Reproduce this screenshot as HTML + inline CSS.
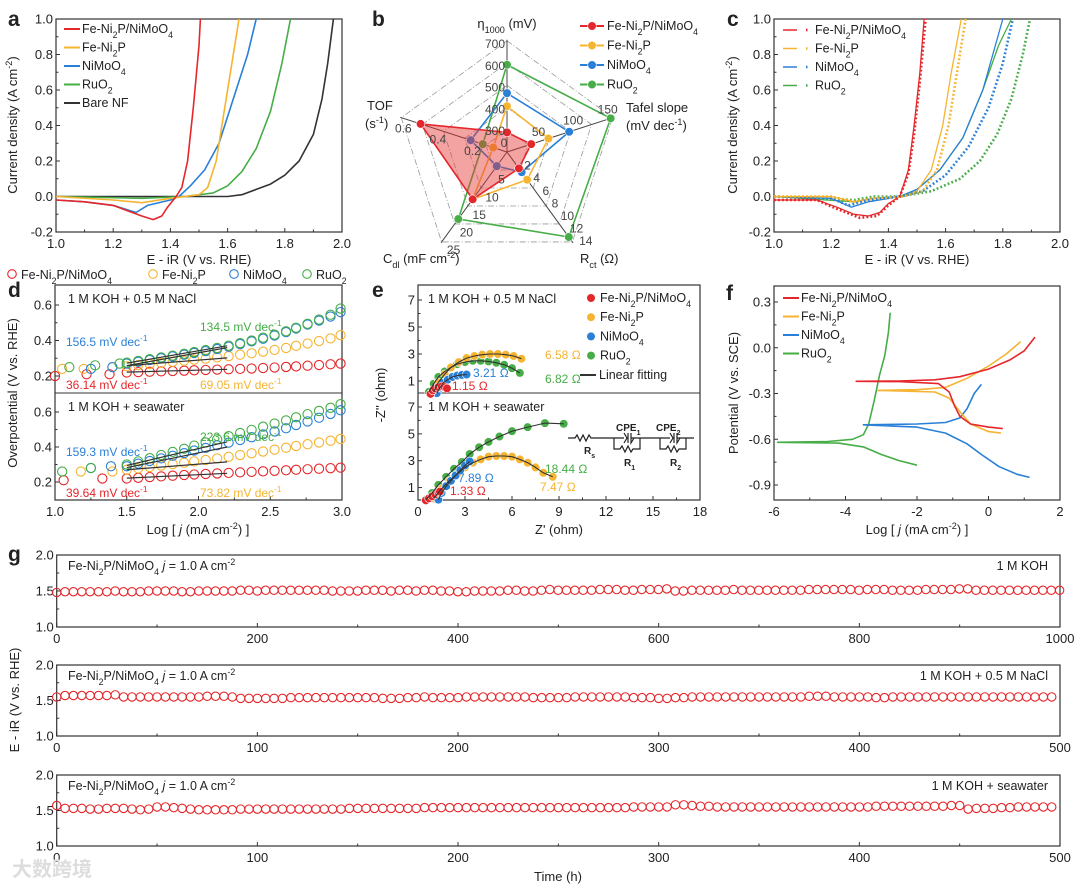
<!DOCTYPE html>
<html><head><meta charset="utf-8"><style>
body{margin:0;background:#fff}
svg{display:block;font-family:"Liberation Sans","Noto Sans CJK SC",sans-serif}
</style></head><body>
<svg id="fig" width="1080" height="889" viewBox="0 0 1080 889" xmlns="http://www.w3.org/2000/svg"></svg>
<script>
// ---------------- DATA ----------------
// panel a: LSV (E, j)
const aRedE=[1.0,1.1,1.2,1.25,1.3,1.34,1.37,1.39,1.42,1.44,1.46,1.48,1.5,1.505];
const aRedJ=[-0.02,-0.03,-0.05,-0.08,-0.11,-0.13,-0.11,-0.06,0,0.05,0.2,0.5,0.85,1.0];
const aOrgE=[1.0,1.2,1.3,1.4,1.5,1.53,1.56,1.58,1.6,1.62,1.64];
const aOrgJ=[0,-0.02,-0.035,-0.01,0.01,0.05,0.2,0.4,0.6,0.8,1.0];
const aBluE=[1.0,1.1,1.2,1.28,1.32,1.4,1.43,1.47,1.52,1.57,1.62,1.67,1.7];
const aBluJ=[-0.02,-0.03,-0.05,-0.09,-0.05,-0.02,0,0.06,0.15,0.3,0.55,0.8,1.0];
const aGrnE=[1.0,1.3,1.45,1.55,1.6,1.65,1.7,1.75,1.79,1.82];
const aGrnJ=[0,-0.01,0,0.02,0.06,0.14,0.27,0.48,0.75,1.0];
const aBlkE=[1.0,1.6,1.65,1.7,1.75,1.8,1.85,1.9,1.93,1.95,1.97];
const aBlkJ=[0,0,0.01,0.04,0.07,0.12,0.2,0.35,0.55,0.75,1.0];
// panel b: radar (eta1000, tafel, Rct, Cdl, TOF)
const bAxes=["eta","tafel","rct","cdl","tof"];
const bRed=[290,35,2.6,13.4,0.5];
const bOrg=[410,60,4.4,13.4,0.08];
const bBlu=[470,90,3.2,4,0.21];
const bGrn=[600,150,13.5,19,0.14];
// panel c: LSV before(solid) / after(dotted)
const cRedE=[1.0,1.15,1.22,1.28,1.33,1.37,1.4,1.44,1.47,1.49,1.51,1.525];
const cRedJ=[-0.02,-0.02,-0.06,-0.1,-0.11,-0.09,-0.04,0,0.15,0.4,0.7,1.0];
const cRedDE=[1.0,1.15,1.22,1.3,1.36,1.4,1.44,1.47,1.49,1.51,1.53];
const cRedDJ=[-0.02,-0.02,-0.07,-0.12,-0.11,-0.05,0,0.13,0.35,0.65,1.0];
const cOrgE=[1.0,1.2,1.28,1.35,1.45,1.5,1.55,1.59,1.62,1.655];
const cOrgJ=[0,0,-0.03,-0.01,0,0.03,0.15,0.4,0.7,1.0];
const cOrgDE=[1.0,1.2,1.28,1.35,1.45,1.52,1.57,1.61,1.64,1.67];
const cOrgDJ=[0,0,-0.03,-0.01,0,0.03,0.15,0.4,0.7,1.0];
const cBluE=[1.0,1.2,1.27,1.33,1.44,1.5,1.58,1.66,1.73,1.8];
const cBluJ=[0,-0.01,-0.06,-0.03,0,0.04,0.15,0.33,0.6,1.0];
const cBluDE=[1.0,1.2,1.26,1.33,1.44,1.52,1.6,1.68,1.75,1.8,1.835];
const cBluDJ=[0,-0.01,-0.05,-0.02,0,0.03,0.12,0.28,0.5,0.75,1.0];
const cGrnE=[1.0,1.28,1.35,1.44,1.5,1.58,1.66,1.73,1.785,1.83];
const cGrnJ=[0,-0.03,-0.01,0,0.04,0.15,0.33,0.6,0.85,1.0];
const cGrnDE=[1.0,1.28,1.35,1.44,1.55,1.65,1.72,1.78,1.83,1.87,1.895];
const cGrnDJ=[0,-0.02,0,0,0.03,0.1,0.2,0.35,0.55,0.8,1.0];
// panel d: Tafel (log j, overpotential)
const dX=[1.5,1.58,1.66,1.74,1.82,1.9,1.97,2.05,2.13,2.21,2.29,2.37,2.45,2.53,2.61,2.68,2.76,2.84,2.92,2.99];
const dTopRed=[0.22,0.222,0.224,0.226,0.228,0.23,0.232,0.234,0.236,0.238,0.24,0.242,0.245,0.248,0.251,0.254,0.258,0.262,0.266,0.27];
const dTopOrg=[0.255,0.262,0.268,0.274,0.28,0.286,0.292,0.298,0.305,0.312,0.32,0.328,0.337,0.347,0.358,0.37,0.383,0.397,0.412,0.43];
const dTopBlu=[0.27,0.28,0.29,0.3,0.31,0.32,0.33,0.34,0.352,0.365,0.38,0.395,0.41,0.428,0.447,0.468,0.49,0.512,0.535,0.56];
const dTopGrn=[0.275,0.285,0.295,0.305,0.315,0.325,0.335,0.346,0.358,0.371,0.385,0.4,0.416,0.433,0.452,0.472,0.494,0.518,0.545,0.58];
const dBotRed=[0.22,0.224,0.228,0.232,0.236,0.24,0.243,0.246,0.249,0.252,0.255,0.258,0.261,0.264,0.267,0.27,0.273,0.276,0.279,0.282];
const dBotOrg=[0.27,0.278,0.286,0.294,0.302,0.31,0.318,0.326,0.335,0.344,0.354,0.364,0.374,0.385,0.396,0.406,0.416,0.426,0.436,0.446];
const dBotBlu=[0.29,0.305,0.32,0.335,0.35,0.365,0.38,0.395,0.41,0.425,0.44,0.456,0.472,0.489,0.507,0.526,0.546,0.567,0.589,0.61];
const dBotGrn=[0.3,0.318,0.336,0.354,0.372,0.39,0.408,0.426,0.444,0.462,0.48,0.498,0.516,0.534,0.552,0.57,0.588,0.606,0.624,0.645];
const dEarlyTopX=[1.0,1.22,1.38,1.05,1.2,1.4,1.25,1.4,1.1,1.28,1.45];
const dEarlyTopY=[0.2,0.21,0.21,0.24,0.24,0.25,0.24,0.25,0.25,0.26,0.27];
const dEarlyBotX=[1.06,1.33,1.18,1.4,1.25,1.39,1.05,1.25];
const dEarlyBotY=[0.21,0.22,0.26,0.26,0.28,0.29,0.26,0.28];
const dEarlyColTop=["r","r","r","o","o","o","b","b","g","g","g"];
const dEarlyColBot=["r","r","o","o","b","b","g","g"];
const dFitTop=[[0.222,0.238],[0.258,0.302],[0.258,0.36],[0.272,0.37]];
const dFitBot=[[0.222,0.25],[0.27,0.315],[0.282,0.4],[0.295,0.43]];
// panel e: Nyquist (Z', -Z'')
const eTopRedX=[0.8,0.95,1.1,1.3,1.5,1.7,1.85];const eTopRedY=[0.05,0.3,0.45,0.55,0.6,0.55,0.45];
const eTopOrgX=[1.0,1.3,1.7,2.1,2.6,3.1,3.6,4.1,4.6,5.1,5.6,6.1,6.6];const eTopOrgY=[0.2,0.9,1.5,2.0,2.4,2.7,2.85,2.95,3.0,3.0,2.95,2.85,2.65];
const eTopBluX=[1.2,1.4,1.6,1.9,2.2,2.5,2.8,3.1];const eTopBluY=[0.1,0.5,0.85,1.1,1.3,1.4,1.45,1.48];
const eTopGrnX=[0.7,1.0,1.3,1.7,2.1,2.5,3.0,3.5,4.0,4.5,5.0,5.5,6.0,6.5];const eTopGrnY=[0.2,0.8,1.3,1.7,2.0,2.25,2.4,2.5,2.5,2.45,2.35,2.2,1.95,1.6];
const eBotRedX=[0.5,0.7,0.9,1.1,1.3,1.4];const eBotRedY=[0.05,0.2,0.35,0.5,0.65,0.7];
const eBotBluX=[1.3,1.5,1.8,2.1,2.4,2.7,3.0,3.3];const eBotBluY=[0.1,0.6,1.1,1.5,1.9,2.3,2.65,2.95];
const eBotOrgX=[1.0,1.5,2.0,2.5,3.0,3.5,4.0,4.5,5.0,5.5,6.0,6.5,7.0,7.5,8.0,8.6];const eBotOrgY=[0.2,0.9,1.5,2.0,2.5,2.85,3.1,3.3,3.35,3.35,3.3,3.1,2.85,2.5,2.1,1.8];
const eBotGrnX=[0.5,0.9,1.3,1.8,2.3,2.8,3.3,3.9,4.5,5.2,6.0,7.0,8.1,9.3];const eBotGrnY=[0.1,0.6,1.2,1.8,2.4,2.9,3.5,4.0,4.4,4.8,5.2,5.5,5.8,5.75];
// panel f: polarization (log j, E)
const fRedX=[0.4,0,-0.5,-0.8,-0.95,-1.1,-1.4,-2.5,-3.7,-2.5,-1.5,-0.8,0,0.6,1.0,1.3];
const fRedY=[-0.53,-0.52,-0.5,-0.45,-0.38,-0.29,-0.235,-0.222,-0.22,-0.218,-0.21,-0.19,-0.14,-0.08,-0.02,0.07];
const fOrgX=[0.35,0,-0.5,-0.8,-1.1,-1.5,-3.1,-2,-1.2,-0.6,0,0.5,0.9];
const fOrgY=[-0.56,-0.55,-0.5,-0.42,-0.33,-0.29,-0.28,-0.275,-0.26,-0.2,-0.12,-0.04,0.04];
const fBluX=[1.15,0.8,0.3,-0.2,-0.6,-1.2,-2,-3.5,-2,-1.2,-0.8,-0.6,-0.4,-0.2];
const fBluY=[-0.85,-0.83,-0.78,-0.7,-0.63,-0.56,-0.52,-0.505,-0.5,-0.49,-0.46,-0.4,-0.3,-0.24];
const fGrnX=[-2.0,-2.5,-3,-3.5,-4.2,-5.9,-4.5,-3.8,-3.5,-3.35,-3.2,-3.05,-2.9,-2.8,-2.75];
const fGrnY=[-0.77,-0.74,-0.7,-0.65,-0.625,-0.62,-0.615,-0.6,-0.57,-0.5,-0.35,-0.18,-0.05,0.1,0.23];
// panel g: stability (interval in hours, potential values)
const gStep=[8.33,4.167,4.167];
const gKOH=[1.48,1.49,1.49,1.49,1.49,1.49,1.49,1.5,1.49,1.49,1.49,1.5,1.5,1.5,1.5,1.49,1.49,1.5,1.5,1.5,1.5,1.5,1.51,1.51,1.5,1.51,1.51,1.51,1.51,1.51,1.51,1.51,1.51,1.5,1.5,1.5,1.5,1.51,1.51,1.51,1.5,1.51,1.51,1.5,1.51,1.51,1.5,1.5,1.49,1.49,1.5,1.5,1.5,1.5,1.51,1.51,1.5,1.5,1.51,1.52,1.51,1.51,1.51,1.51,1.51,1.52,1.52,1.52,1.51,1.51,1.52,1.52,1.52,1.53,1.5,1.5,1.51,1.51,1.51,1.51,1.51,1.52,1.51,1.51,1.51,1.51,1.51,1.51,1.51,1.51,1.52,1.52,1.52,1.52,1.52,1.52,1.51,1.52,1.52,1.52,1.51,1.51,1.51,1.51,1.52,1.52,1.52,1.52,1.53,1.53,1.51,1.51,1.51,1.51,1.51,1.51,1.51,1.51,1.51,1.51,1.51];
const gNaCl=[1.55,1.57,1.57,1.57,1.57,1.57,1.57,1.58,1.55,1.55,1.55,1.55,1.55,1.55,1.55,1.55,1.55,1.55,1.56,1.56,1.56,1.55,1.53,1.53,1.53,1.53,1.53,1.53,1.54,1.54,1.54,1.54,1.54,1.54,1.54,1.54,1.54,1.54,1.54,1.53,1.53,1.53,1.54,1.54,1.55,1.54,1.54,1.54,1.54,1.55,1.55,1.55,1.55,1.55,1.55,1.55,1.55,1.54,1.54,1.54,1.54,1.54,1.55,1.55,1.55,1.55,1.55,1.55,1.55,1.54,1.54,1.54,1.53,1.53,1.54,1.54,1.55,1.55,1.55,1.55,1.55,1.55,1.55,1.55,1.55,1.55,1.55,1.55,1.55,1.55,1.56,1.56,1.56,1.55,1.55,1.55,1.55,1.55,1.54,1.54,1.55,1.55,1.55,1.55,1.55,1.55,1.55,1.55,1.55,1.55,1.55,1.55,1.55,1.55,1.55,1.55,1.55,1.55,1.55,1.55,1.55];
const gSea=[1.57,1.53,1.53,1.53,1.52,1.52,1.53,1.53,1.53,1.52,1.51,1.52,1.55,1.55,1.54,1.53,1.52,1.51,1.51,1.51,1.51,1.51,1.52,1.52,1.52,1.52,1.52,1.52,1.52,1.52,1.52,1.52,1.52,1.52,1.52,1.53,1.53,1.53,1.53,1.53,1.53,1.53,1.53,1.53,1.54,1.54,1.54,1.54,1.54,1.54,1.54,1.54,1.54,1.54,1.54,1.54,1.54,1.54,1.54,1.54,1.54,1.54,1.54,1.54,1.54,1.54,1.54,1.54,1.54,1.55,1.55,1.55,1.55,1.55,1.58,1.58,1.57,1.56,1.56,1.55,1.55,1.55,1.55,1.55,1.55,1.55,1.55,1.55,1.55,1.55,1.55,1.55,1.55,1.55,1.55,1.55,1.55,1.55,1.56,1.56,1.56,1.56,1.56,1.56,1.56,1.56,1.56,1.57,1.57,1.52,1.53,1.53,1.53,1.54,1.54,1.55,1.55,1.55,1.55,1.55,1.55];

// ---------------- HELPERS ----------------
const NS="http://www.w3.org/2000/svg";
const svg=document.getElementById("fig");
const C={r:"#e5262b",o:"#f5b431",b:"#2a80d6",g:"#46ad47",k:"#333"};
function el(tag,attrs,name,parent){
  const e=document.createElementNS(NS,tag);
  for(const k in attrs)e.setAttribute(k,attrs[k]);
  
  
  (parent||svg).appendChild(e);return e;
}
function fmt(s){return s.replace(/_\{([^}]*)\}/g,'<tspan font-size="70%" baseline-shift="sub">$1</tspan>').replace(/\^\{([^}]*)\}/g,'<tspan font-size="70%" baseline-shift="super">$1</tspan>');}
function txt(x,y,s,name,o){o=o||{};const t=el("text",{x:x,y:y,"font-size":o.fs||13,fill:o.fill||"#222","text-anchor":o.a||"start","font-weight":o.fw||"normal"},name);
  if(o.rot)t.setAttribute("transform","rotate("+o.rot+" "+x+" "+y+")");t.innerHTML=fmt(s);return t;}
function lin(d0,d1,r0,r1){return v=>r0+(v-d0)/(d1-d0)*(r1-r0);}
function path(xs,ys,sx,sy,col,name,o){o=o||{};let d="";for(let i=0;i<xs.length;i++)d+=(i?"L":"M")+sx(xs[i]).toFixed(1)+","+sy(ys[i]).toFixed(1);
  return el("path",{d:d,fill:"none",stroke:col,"stroke-width":o.w||1.6,"stroke-dasharray":o.dash||"none","stroke-linecap":o.cap||"butt","stroke-linejoin":"round"},name);}
function box(x0,y0,x1,y1,name){el("rect",{x:x0,y:y0,width:x1-x0,height:y1-y0,fill:"none",stroke:"#333","stroke-width":1.2},name);}
function xticks(sx,y,vals,labels,name,minor,fs){vals.forEach((v,i)=>{el("line",{x1:sx(v),x2:sx(v),y1:y,y2:y-4,stroke:"#333"},name+"-tick");
  if(labels)txt(sx(v),y+16,labels[i],name+"-label",{a:"middle",fs:fs||13});});
  (minor||[]).forEach(v=>el("line",{x1:sx(v),x2:sx(v),y1:y,y2:y-2.5,stroke:"#333"},name+"-minor-tick"));}
function yticks(sy,x,vals,labels,name,minor){vals.forEach((v,i)=>{el("line",{x1:x,x2:x+4,y1:sy(v),y2:sy(v),stroke:"#333"},name+"-tick");
  if(labels)txt(x-3,sy(v)+4.5,labels[i],name+"-label",{a:"end"});});
  (minor||[]).forEach(v=>el("line",{x1:x,x2:x+2.5,y1:sy(v),y2:sy(v),stroke:"#333"},name+"-minor-tick"));}
function circ(x,y,r,col,name,fill){return el("circle",{cx:x,cy:y,r:r,fill:fill||"none",stroke:col,"stroke-width":1.1},name);}
function ball(x,y,col,name){el("circle",{cx:x,cy:y,r:4.3,fill:col,stroke:"#fff","stroke-width":0.6},name);}

// ---------------- PANEL A ----------------
{const sx=lin(1,2,56,342),sy=lin(-0.2,1,232,19);
box(56,19,342,232,"panel-a-plot-area");
xticks(sx,232,[1,1.2,1.4,1.6,1.8,2],["1.0","1.2","1.4","1.6","1.8","2.0"],"panel-a-x",[1.1,1.3,1.5,1.7,1.9]);
yticks(sy,56,[-0.2,0,0.2,0.4,0.6,0.8,1],["-0.2","0.0","0.2","0.4","0.6","0.8","1.0"],"panel-a-y",[-0.1,0.1,0.3,0.5,0.7,0.9]);
txt(199,264,"E - iR (V vs. RHE)","panel-a-x-axis-title",{a:"middle"});
txt(17,125,"Current density (A cm^{-2})","panel-a-y-axis-title",{a:"middle",rot:-90});
txt(8,26,"a","panel-a-letter",{fs:21,fw:"bold"});
path(aBlkE,aBlkJ,sx,sy,C.k,"series-bare-nf");path(aGrnE,aGrnJ,sx,sy,C.g,"series-ruo2");
path(aBluE,aBluJ,sx,sy,C.b,"series-nimoo4");path(aOrgE,aOrgJ,sx,sy,C.o,"series-fe-ni2p");path(aRedE,aRedJ,sx,sy,C.r,"series-fe-ni2p-nimoo4");
[["Fe-Ni_{2}P/NiMoO_{4}",C.r],["Fe-Ni_{2}P",C.o],["NiMoO_{4}",C.b],["RuO_{2}",C.g],["Bare NF",C.k]].forEach((l,i)=>{const y=33+i*18.5;
 el("line",{x1:64,x2:80,y1:y-4,y2:y-4,stroke:l[1],"stroke-width":2},"panel-a-legend-swatch");txt(82,y,l[0],"panel-a-legend-entry",{fs:12.5});});}

// ---------------- PANEL B (radar) ----------------
{const cx=507,cy=152,R=109;const ang=[-90,-18,54,126,198].map(a=>a*Math.PI/180);
const rng=[[200,700],[0,150],[0,14],[0,25],[0,0.6]];
const pt=(i,v)=>{const r=(v-rng[i][0])/(rng[i][1]-rng[i][0])*R;return [cx+r*Math.cos(ang[i]),cy+r*Math.sin(ang[i])];};
txt(372,26,"b","panel-b-letter",{fs:21,fw:"bold"});
for(let k=1;k<=5;k++){const r=R*k/5*1.02;el("polygon",{points:ang.map(a=>(cx+r*Math.cos(a))+","+(cy+r*Math.sin(a))).join(" "),fill:"none",stroke:"#999","stroke-width":0.8,"stroke-dasharray":"6 2 1 2"},"radar-grid-ring");}
ang.forEach((a,i)=>el("line",{x1:cx,y1:cy,x2:cx+R*1.03*Math.cos(a),y2:cy+R*1.03*Math.sin(a),stroke:"#444","stroke-width":1},"radar-axis-"+bAxes[i]));
const series=[[bGrn,C.g,"ruo2"],[bBlu,C.b,"nimoo4"],[bOrg,C.o,"fe-ni2p"],[bRed,C.r,"fe-ni2p-nimoo4"]];
series.forEach(s=>{const pts=s[0].map((v,i)=>pt(i,v));
 el("polygon",{points:pts.map(p=>p.join(",")).join(" "),fill:s[2]=="fe-ni2p-nimoo4"?"rgba(230,50,50,0.45)":"none",stroke:s[1],"stroke-width":1.6},"radar-series-"+s[2]);
 pts.forEach(p=>ball(p[0],p[1],s[1],"radar-point-"+s[2]));});
[[300,"300"],[400,"400"],[500,"500"],[600,"600"],[700,"700"]].forEach(t=>{const p=pt(0,t[0]);txt(p[0]-2,p[1]+5,t[1],"radar-eta-tick",{a:"end",fs:12,fill:"#444"});});
[[0,"0"],[50,"50"],[100,"100"],[150,"150"]].forEach(t=>{const p=pt(1,t[0]);txt(p[0]-3,p[1]-5,t[1],"radar-tafel-tick",{a:"middle",fs:12,fill:"#444"});});
[[2,"2"],[4,"4"],[6,"6"],[8,"8"],[10,"10"],[12,"12"],[14,"14"]].forEach(t=>{const p=pt(2,t[0]);txt(p[0]+8,p[1]+5,t[1],"radar-rct-tick",{fs:12,fill:"#444"});});
[[5,"5"],[10,"10"],[15,"15"],[20,"20"],[25,"25"]].forEach(t=>{const p=pt(3,t[0]);txt(p[0]+4,p[1]+14,t[1],"radar-cdl-tick",{fs:12,fill:"#444"});});
[[0.2,"0.2"],[0.4,"0.4"],[0.6,"0.6"]].forEach(t=>{const p=pt(4,t[0]);txt(p[0],p[1]+14,t[1],"radar-tof-tick",{a:"middle",fs:12,fill:"#444"});});
txt(507,28,"η_{1000} (mV)","radar-label-eta",{a:"middle"});
txt(626,112,"Tafel slope","radar-label-tafel",{fs:13});txt(626,130,"(mV dec^{-1})","radar-label-tafel-unit",{fs:13});
txt(580,263,"R_{ct} (Ω)","radar-label-rct",{fs:13});
txt(383,263,"C_{dl} (mF cm^{-2})","radar-label-cdl",{fs:13});
txt(367,110,"TOF","radar-label-tof",{fs:13});txt(365,128,"(s^{-1})","radar-label-tof-unit",{fs:13});
[["Fe-Ni_{2}P/NiMoO_{4}",C.r],["Fe-Ni_{2}P",C.o],["NiMoO_{4}",C.b],["RuO_{2}",C.g]].forEach((l,i)=>{const y=30+i*19.5;
 el("line",{x1:580,x2:604,y1:y-4,y2:y-4,stroke:l[1],"stroke-width":2},"panel-b-legend-swatch");ball(592,y-4,l[1],"panel-b-legend-marker");txt(607,y,l[0],"panel-b-legend-entry",{fs:12.5});});}

// ---------------- PANEL C ----------------
{const sx=lin(1,2,774,1060),sy=lin(-0.2,1,232,19);
box(774,19,1060,232,"panel-c-plot-area");
xticks(sx,232,[1,1.2,1.4,1.6,1.8,2],["1.0","1.2","1.4","1.6","1.8","2.0"],"panel-c-x",[1.1,1.3,1.5,1.7,1.9]);
yticks(sy,774,[-0.2,0,0.2,0.4,0.6,0.8,1],["-0.2","0.0","0.2","0.4","0.6","0.8","1.0"],"panel-c-y",[-0.1,0.1,0.3,0.5,0.7,0.9]);
txt(917,264,"E - iR (V vs. RHE)","panel-c-x-axis-title",{a:"middle"});
txt(737,125,"Current density (A cm^{-2})","panel-c-y-axis-title",{a:"middle",rot:-90});
txt(727,26,"c","panel-c-letter",{fs:21,fw:"bold"});
const D={dash:"1.8 2.2",w:2.6,cap:"butt"};
path(cGrnE,cGrnJ,sx,sy,C.g,"series-ruo2-initial",{w:1.3});path(cBluE,cBluJ,sx,sy,C.b,"series-nimoo4-initial",{w:1.3});
path(cOrgE,cOrgJ,sx,sy,C.o,"series-fe-ni2p-initial",{w:1.3});path(cRedE,cRedJ,sx,sy,C.r,"series-fe-ni2p-nimoo4-initial",{w:1.3});
path(cGrnDE,cGrnDJ,sx,sy,C.g,"series-ruo2-after",D);path(cBluDE,cBluDJ,sx,sy,C.b,"series-nimoo4-after",D);
path(cOrgDE,cOrgDJ,sx,sy,C.o,"series-fe-ni2p-after",D);path(cRedDE,cRedDJ,sx,sy,C.r,"series-fe-ni2p-nimoo4-after",D);
[["Fe-Ni_{2}P/NiMoO_{4}",C.r],["Fe-Ni_{2}P",C.o],["NiMoO_{4}",C.b],["RuO_{2}",C.g]].forEach((l,i)=>{const y=34+i*18.5;
 el("line",{x1:783,x2:797,y1:y-4,y2:y-4,stroke:l[1],"stroke-width":1.5},"panel-c-legend-swatch");
 el("line",{x1:806,x2:810,y1:y-4,y2:y-4,stroke:l[1],"stroke-width":2.6,"stroke-dasharray":"1.5 2.5"},"panel-c-legend-dot");
 txt(815,y,l[0],"panel-c-legend-entry",{fs:12.5});});}

// ---------------- PANEL D ----------------
{const sx=lin(1,3,55,342);const syT=lin(0.2,0.6,376,305),syB=lin(0.2,0.6,482,412);
box(55,285,342,500,"panel-d-plot-area");el("line",{x1:55,x2:342,y1:393,y2:393,stroke:"#333"},"panel-d-divider");
xticks(sx,500,[1,1.5,2,2.5,3],["1.0","1.5","2.0","2.5","3.0"],"panel-d-x",[1.25,1.75,2.25,2.75]);
yticks(syT,55,[0.2,0.4,0.6],["0.2","0.4","0.6"],"panel-d-top-y",[0.3,0.5]);
yticks(syB,55,[0.2,0.4,0.6],["0.2","0.4","0.6"],"panel-d-bottom-y",[0.3,0.5]);
txt(198,534,"Log [ <tspan font-style='italic'>j</tspan> (mA cm^{-2}) ]","panel-d-x-axis-title",{a:"middle"});
txt(17,393,"Overpotential (V vs. RHE)","panel-d-y-axis-title",{a:"middle",rot:-90});
txt(8,297,"d","panel-d-letter",{fs:21,fw:"bold"});
const draw=(ys,sy,col,n)=>dX.forEach((x,i)=>circ(sx(x),sy(ys[i]),4.6,col,n));
draw(dTopRed,syT,C.r,"tafel-nacl-fe-ni2p-nimoo4");draw(dTopOrg,syT,C.o,"tafel-nacl-fe-ni2p");draw(dTopBlu,syT,C.b,"tafel-nacl-nimoo4");draw(dTopGrn,syT,C.g,"tafel-nacl-ruo2");
draw(dBotRed,syB,C.r,"tafel-seawater-fe-ni2p-nimoo4");draw(dBotOrg,syB,C.o,"tafel-seawater-fe-ni2p");draw(dBotBlu,syB,C.b,"tafel-seawater-nimoo4");draw(dBotGrn,syB,C.g,"tafel-seawater-ruo2");
dEarlyTopX.forEach((x,i)=>circ(sx(x),syT(dEarlyTopY[i]),4.6,C[dEarlyColTop[i]],"tafel-nacl-low-current-point"));
dEarlyBotX.forEach((x,i)=>circ(sx(x),syB(dEarlyBotY[i]),4.6,C[dEarlyColBot[i]],"tafel-seawater-low-current-point"));
dFitTop.forEach(f=>path([1.5,2.2],f,sx,syT,"#333","tafel-nacl-fit-line",{w:1.2}));
dFitBot.forEach(f=>path([1.5,2.2],f,sx,syB,"#333","tafel-seawater-fit-line",{w:1.2}));
txt(68,303,"1 M KOH + 0.5 M NaCl","panel-d-top-condition",{fs:12.5});txt(68,411,"1 M KOH + seawater","panel-d-bottom-condition",{fs:12.5});
txt(200,331,"134.5 mV dec^{-1}","tafel-label-ruo2-nacl",{fs:12,fill:C.g});txt(66,346,"156.5 mV dec^{-1}","tafel-label-nimoo4-nacl",{fs:12,fill:C.b});
txt(66,389,"36.14 mV dec^{-1}","tafel-label-red-nacl",{fs:12,fill:C.r});txt(200,389,"69.05 mV dec^{-1}","tafel-label-fe-ni2p-nacl",{fs:12,fill:C.o});
txt(200,441,"223.6 mV dec^{-1}","tafel-label-ruo2-sea",{fs:12,fill:C.g});txt(66,456,"159.3 mV dec^{-1}","tafel-label-nimoo4-sea",{fs:12,fill:C.b});
txt(66,497,"39.64 mV dec^{-1}","tafel-label-red-sea",{fs:12,fill:C.r});txt(200,497,"73.82 mV dec^{-1}","tafel-label-fe-ni2p-sea",{fs:12,fill:C.o});
[["Fe-Ni_{2}P/NiMoO_{4}",C.r,12],["Fe-Ni_{2}P",C.o,153],["NiMoO_{4}",C.b,234],["RuO_{2}",C.g,307]].forEach(l=>{circ(l[2],274,4.3,l[1],"panel-d-legend-marker");txt(l[2]+9,279,l[0],"panel-d-legend-entry",{fs:12.5});});}

// ---------------- PANEL E ----------------
{const sx=lin(0,18,418,700);const syT=lin(0,7,394.5,300),syB=lin(0,7,501,407);
box(418,285,700,500,"panel-e-plot-area");el("line",{x1:418,x2:700,y1:393,y2:393,stroke:"#333"},"panel-e-divider");
xticks(sx,500,[0,3,6,9,12,15,18],["0","3","6","9","12","15","18"],"panel-e-x",[1.5,4.5,7.5,10.5,13.5,16.5]);
yticks(syT,418,[1,3,5,7],["1","3","5","7"],"panel-e-top-y",[2,4,6]);
yticks(syB,418,[1,3,5,7],["1","3","5","7"],"panel-e-bottom-y",[2,4,6]);
txt(559,534,"Z' (ohm)","panel-e-x-axis-title",{a:"middle"});
txt(385,395,"-Z'' (ohm)","panel-e-y-axis-title",{a:"middle",rot:-90});
txt(372,297,"e","panel-e-letter",{fs:21,fw:"bold"});
const bl=(xs,ys,sy,col,n)=>xs.forEach((x,i)=>ball(sx(x),sy(ys[i]),col,n));
bl(eTopGrnX,eTopGrnY,syT,C.g,"nyquist-nacl-ruo2");bl(eTopOrgX,eTopOrgY,syT,C.o,"nyquist-nacl-fe-ni2p");bl(eTopBluX,eTopBluY,syT,C.b,"nyquist-nacl-nimoo4");bl(eTopRedX,eTopRedY,syT,C.r,"nyquist-nacl-fe-ni2p-nimoo4");
bl(eBotGrnX,eBotGrnY,syB,C.g,"nyquist-sea-ruo2");bl(eBotOrgX,eBotOrgY,syB,C.o,"nyquist-sea-fe-ni2p");bl(eBotBluX,eBotBluY,syB,C.b,"nyquist-sea-nimoo4");bl(eBotRedX,eBotRedY,syB,C.r,"nyquist-sea-fe-ni2p-nimoo4");
[[eTopOrgX,eTopOrgY,syT],[eTopGrnX,eTopGrnY,syT],[eTopBluX,eTopBluY,syT],[eBotOrgX,eBotOrgY,syB],[eBotGrnX,eBotGrnY,syB],[eBotBluX,eBotBluY,syB]].forEach(s=>path(s[0],s[1],sx,s[2],"#333","nyquist-fit-line",{w:1.1}));
txt(428,303,"1 M KOH + 0.5 M NaCl","panel-e-top-condition",{fs:12.5});txt(428,411,"1 M KOH + seawater","panel-e-bottom-condition",{fs:12.5});
txt(545,359,"6.58 Ω","rct-label-fe-ni2p-nacl",{fs:12,fill:C.o});txt(473,377,"3.21 Ω","rct-label-nimoo4-nacl",{fs:12,fill:C.b});
txt(545,383,"6.82 Ω","rct-label-ruo2-nacl",{fs:12,fill:C.g});txt(452,390,"1.15 Ω","rct-label-red-nacl",{fs:12,fill:C.r});
txt(545,473,"18.44 Ω","rct-label-ruo2-sea",{fs:12,fill:C.g});txt(458,482,"7.89 Ω","rct-label-nimoo4-sea",{fs:12,fill:C.b});
txt(540,491,"7.47 Ω","rct-label-fe-ni2p-sea",{fs:12,fill:C.o});txt(450,495,"1.33 Ω","rct-label-red-sea",{fs:12,fill:C.r});
[["Fe-Ni_{2}P/NiMoO_{4}",C.r],["Fe-Ni_{2}P",C.o],["NiMoO_{4}",C.b],["RuO_{2}",C.g]].forEach((l,i)=>{const y=302+i*19.2;ball(591,y-4,l[1],"panel-e-legend-marker");txt(600,y,l[0],"panel-e-legend-entry",{fs:12.5});});
el("line",{x1:580,x2:596,y1:375,y2:375,stroke:"#333","stroke-width":2},"panel-e-legend-fit-swatch");txt(599,379,"Linear fitting","panel-e-legend-fit",{fs:12.5});
const g=el("g",{stroke:"#222",fill:"none","stroke-width":1.2},"equivalent-circuit");
el("path",{d:"M568,438 L575,438 l2,-3 l3,6 l3,-6 l3,6 l3,-6 l2,3 L614,438 M614,438 L614,449 L620,449 l2,-3 l3,6 l3,-6 l3,6 l2,-3 L640,449 L640,438 M614,438 L624,438 M628,433 L628,443 M631,433 L631,443 L634,438 M624,433 L627,438 L624,443 M631,438 L640,438 L660,438 L660,449 L666,449 l2,-3 l3,6 l3,-6 l3,6 l2,-3 L686,449 L686,438 M660,438 L670,438 M674,433 L674,443 M677,433 L677,443 L680,438 M670,433 L673,438 L670,443 M677,438 L694,438"},"circuit-wires",g);
txt(584,454,"R_{s}","circuit-rs-label",{fs:10,fw:"bold"});txt(616,431,"CPE_{1}","circuit-cpe1-label",{fs:10,fw:"bold"});
txt(656,431,"CPE_{2}","circuit-cpe2-label",{fs:10,fw:"bold"});txt(624,466,"R_{1}","circuit-r1-label",{fs:10,fw:"bold"});txt(670,466,"R_{2}","circuit-r2-label",{fs:10,fw:"bold"});}

// ---------------- PANEL F ----------------
{const sx=lin(-6,2,774,1060),sy=lin(-0.9,0.3,485,302);
box(774,286,1060,500,"panel-f-plot-area");
xticks(sx,500,[-6,-4,-2,0,2],["-6","-4","-2","0","2"],"panel-f-x",[-5,-3,-1,1]);
yticks(sy,774,[-0.9,-0.6,-0.3,0,0.3],["-0.9","-0.6","-0.3","0.0","0.3"],"panel-f-y",[-0.75,-0.45,-0.15,0.15]);
txt(917,534,"Log [ <tspan font-style='italic'>j</tspan> (mA cm^{-2}) ]","panel-f-x-axis-title",{a:"middle"});
txt(738,393,"Potential (V vs. SCE)","panel-f-y-axis-title",{a:"middle",rot:-90});
txt(726,300,"f","panel-f-letter",{fs:21,fw:"bold"});
path(fGrnX,fGrnY,sx,sy,C.g,"polarization-ruo2");path(fBluX,fBluY,sx,sy,C.b,"polarization-nimoo4");
path(fOrgX,fOrgY,sx,sy,C.o,"polarization-fe-ni2p");path(fRedX,fRedY,sx,sy,C.r,"polarization-fe-ni2p-nimoo4");
[["Fe-Ni_{2}P/NiMoO_{4}",C.r],["Fe-Ni_{2}P",C.o],["NiMoO_{4}",C.b],["RuO_{2}",C.g]].forEach((l,i)=>{const y=302+i*18.5;
 el("line",{x1:783,x2:799,y1:y-4,y2:y-4,stroke:l[1],"stroke-width":2},"panel-f-legend-swatch");txt(801,y,l[0],"panel-f-legend-entry",{fs:12.5});});}

// ---------------- PANEL G ----------------
{const X0=56.7,X1=1060;
const subs=[[gKOH,1000,555,627,"1 M KOH",[0,200,400,600,800,1000],[100,300,500,700,900],"koh"],
 [gNaCl,500,665,736,"1 M KOH + 0.5 M NaCl",[0,100,200,300,400,500],[50,150,250,350,450],"nacl"],
 [gSea,500,775,846,"1 M KOH + seawater",[0,100,200,300,400,500],[50,150,250,350,450],"seawater"]];
subs.forEach((s,k)=>{const sx=lin(0,s[1],X0,X1),sy=lin(1,2,s[3],s[2]);
 box(X0,s[2],X1,s[3],"panel-g-"+s[7]+"-plot-area");
 xticks(sx,s[3],s[5],s[5].map(String),"panel-g-"+s[7]+"-x",s[6]);
 yticks(sy,X0,[1,1.5,2],["1.0","1.5","2.0"],"panel-g-"+s[7]+"-y",[1.25,1.75]);
 s[0].forEach((v,i)=>{const t=i*gStep[k];if(t<=s[1])circ(sx(t),sy(v),4.2,C.r,"stability-"+s[7]+"-point");});
 txt(68,s[2]+15,"Fe-Ni_{2}P/NiMoO_{4}  <tspan font-style='italic'>j</tspan> = 1.0 A cm^{-2}","panel-g-"+s[7]+"-annotation",{fs:12.5});
 txt(1048,s[2]+15,s[4],"panel-g-"+s[7]+"-condition",{fs:12.5,a:"end"});});
txt(8,561,"g","panel-g-letter",{fs:21,fw:"bold"});
txt(558,881,"Time (h)","panel-g-x-axis-title",{a:"middle"});
txt(19,700,"E - iR (V vs. RHE)","panel-g-y-axis-title",{a:"middle",rot:-90});
txt(12,876,"大数跨境","watermark",{fs:20,fill:"#ddd",fw:"bold"});}
</script>
</body></html>
